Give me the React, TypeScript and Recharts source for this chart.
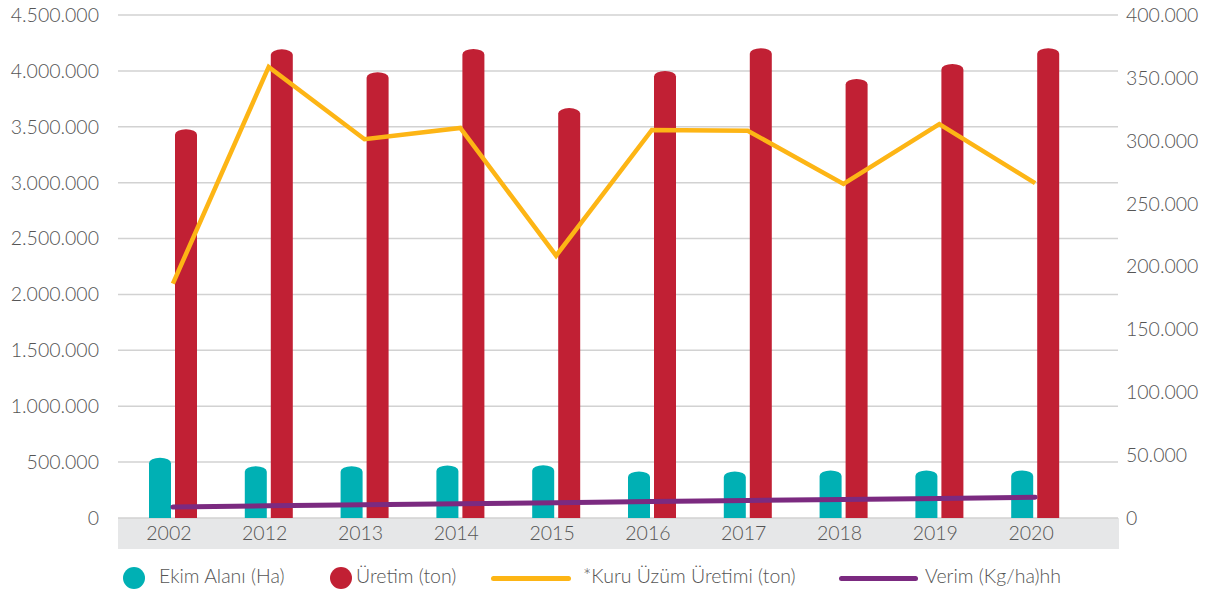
import React from 'react';
import { ComposedChart, Bar, Line, XAxis, YAxis, CartesianGrid } from 'recharts';

// years on the category axis
const years = ['2002', '2012', '2013', '2014', '2015', '2016', '2017', '2018', '2019', '2020'];

// Ekim Alanı (Ha) – left axis
const ekimAlani = [540000, 464000, 464000, 470000, 473000, 417000, 417000, 426000, 426000, 426000];
// Üretim (ton) – left axis
const uretim = [3479000, 4193000, 3988000, 4196000, 3667000, 4000000, 4203000, 3928000, 4062000, 4203000];
// *Kuru Üzüm Üretimi (ton) – right axis
const kuruUzum = [186400, 358700, 301200, 310200, 208600, 308600, 308000, 265700, 313200, 266300];
// Verim (Kg/ha) – right axis
const verim = [8700, 9700, 10600, 11400, 12200, 13100, 14000, 14800, 15600, 16500];

const leftTicks = [0, 500000, 1000000, 1500000, 2000000, 2500000, 3000000, 3500000, 4000000, 4500000];
const rightTicks = [0, 50000, 100000, 150000, 200000, 250000, 300000, 350000, 400000];

const legendNames = ['Ekim Alanı (Ha)', 'Üretim (ton)', '*Kuru Üzüm Üretimi (ton)', 'Verim (Kg/ha)hh'];

const TEAL = '#00B0B4';
const RED = '#C12034';
const YELLOW = '#FDB515';
const PURPLE = '#7B2A80';
const TEXT = '#555555';
const FONT = 'Lato, "Open Sans", sans-serif';

const data = years.map((year, i) => ({
  year,
  ekim: ekimAlani[i],
  uretim: uretim[i],
  kuru: kuruUzum[i],
  verim: verim[i],
}));

const fmt = (v: number) => String(v).replace(/\B(?=(\d{3})+(?!\d))/g, '.');

// bar with a rounded (cylinder-like) top
const DomeBar = (props: any) => {
  const { x, y, width, height, fill } = props;
  if (!height || height <= 0) return null;
  const ry = Math.min(5.5, height);
  const d = `M${x},${y + height} L${x},${y + ry} A${width / 2},${ry} 0 0 1 ${x + width},${y + ry} L${x + width},${y + height} Z`;
  return <path d={d} fill={fill} />;
};

const tickStyle = { fill: TEXT, fontSize: 19.5, fontFamily: FONT, fontWeight: 300 };

const App: React.FC = () => {
  return (
    <div style={{ position: 'absolute', left: 0, top: 0, width: 1208, height: 591, background: '#fff' }}>
      {/* grey band behind the year labels */}
      <div style={{ position: 'absolute', left: 118, top: 518, width: 1001, height: 31, background: '#E6E7E8' }} />
      <div style={{ position: 'absolute', left: 0, top: 0 }}>
        <ComposedChart width={1208} height={591} data={data} margin={{ top: 15, right: 0, bottom: 42, left: 0 }}>
          <CartesianGrid yAxisId="left" vertical={false} stroke="#D2D2D2" strokeWidth={1.5} />
          <XAxis
            dataKey="year"
            axisLine={false}
            tickLine={false}
            height={31}
            padding={{ left: 7, right: 35 }}
            tick={{ ...tickStyle, dx: -4 }}
            interval={0}
          />
          <YAxis
            yAxisId="left"
            width={118}
            domain={[0, 4500000]}
            ticks={leftTicks}
            tickFormatter={fmt}
            axisLine={false}
            tickLine={false}
            tickMargin={13}
            tick={tickStyle}
          />
          <YAxis
            yAxisId="right"
            orientation="right"
            width={90}
            domain={[0, 400000]}
            ticks={rightTicks}
            tickFormatter={fmt}
            axisLine={false}
            tickLine={false}
            tick={tickStyle}
          />
          <Bar yAxisId="left" dataKey="ekim" name={legendNames[0]} fill={TEAL} barSize={22} shape={<DomeBar />} isAnimationActive={false} />
          <Bar yAxisId="left" dataKey="uretim" name={legendNames[1]} fill={RED} barSize={22} shape={<DomeBar />} isAnimationActive={false} />
          <Line yAxisId="right" dataKey="kuru" name={legendNames[2]} stroke={YELLOW} strokeWidth={4.5} dot={false} activeDot={false} strokeLinejoin="miter" isAnimationActive={false} />
          <Line yAxisId="right" dataKey="verim" name={legendNames[3]} stroke={PURPLE} strokeWidth={5} dot={false} activeDot={false} strokeLinecap="round" isAnimationActive={false} />
        </ComposedChart>
      </div>
      {/* legend */}
      <div style={{ position: 'absolute', left: 0, top: 565, width: 1208, height: 26, fontFamily: FONT, fontWeight: 300, fontSize: 19.5, color: TEXT }}>
        <span style={{ position: 'absolute', left: 123, top: 2, width: 22, height: 22, borderRadius: 11, background: TEAL }} />
        <span style={{ position: 'absolute', left: 159, top: -1, whiteSpace: 'nowrap' }}>{legendNames[0]}</span>
        <span style={{ position: 'absolute', left: 330, top: 2, width: 22, height: 22, borderRadius: 11, background: RED }} />
        <span style={{ position: 'absolute', left: 356, top: -1, whiteSpace: 'nowrap' }}>{legendNames[1]}</span>
        <span style={{ position: 'absolute', left: 491, top: 11, width: 80, height: 5, borderRadius: 3, background: YELLOW }} />
        <span style={{ position: 'absolute', left: 583, top: -1, whiteSpace: 'nowrap' }}>{legendNames[2]}</span>
        <span style={{ position: 'absolute', left: 839, top: 11, width: 79, height: 5, borderRadius: 3, background: PURPLE }} />
        <span style={{ position: 'absolute', left: 925, top: -1, whiteSpace: 'nowrap' }}>{legendNames[3]}</span>
      </div>
    </div>
  );
};

export default App;
